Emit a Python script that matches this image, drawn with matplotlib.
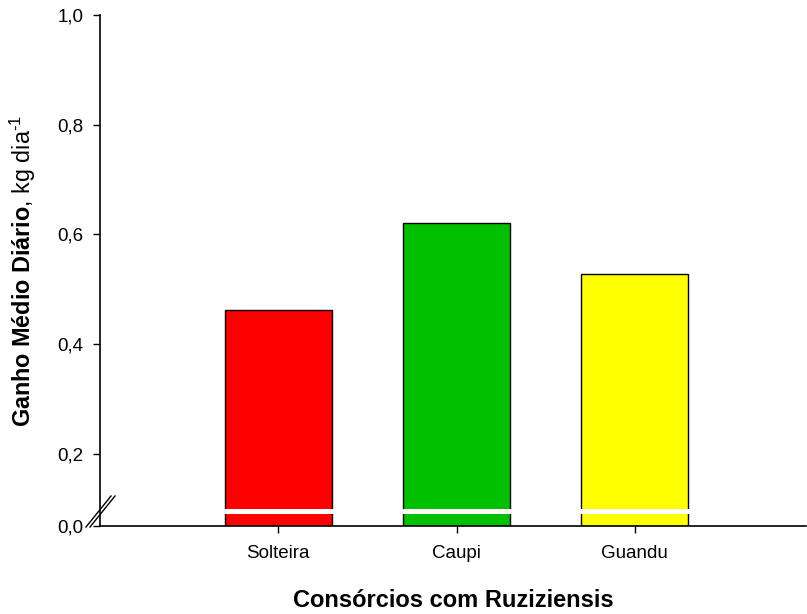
import numpy as np
import matplotlib
matplotlib.use("Agg")
import matplotlib.pyplot as plt
from matplotlib.lines import Line2D

plt.rcParams['font.family'] = ['Liberation Sans', 'DejaVu Sans']
plt.rcParams['mathtext.fontset'] = 'custom'
plt.rcParams['mathtext.rm'] = 'Liberation Sans'
plt.rcParams['mathtext.bf'] = 'Liberation Sans:bold'
plt.rcParams['mathtext.it'] = 'Liberation Sans:italic'

categories = ["Solteira", "Caupi", "Guandu"]
gmd = [0.462, 0.620, 0.527]
colors = ["#FF0000", "#00C000", "#FFFF00"]
yticks = [0.0, 0.2, 0.4, 0.6, 0.8, 1.0]
ytick_labels = ["0,0", "0,2", "0,4", "0,6", "0,8", "1,0"]

# broken y axis: values below the break are compressed
BREAK = 0.095
SQUEEZE = 0.28


def fwd(v):
    v = np.asarray(v, dtype=float)
    return np.where(v >= BREAK, v, BREAK - (BREAK - v) * SQUEEZE)


def inv(u):
    u = np.asarray(u, dtype=float)
    return np.where(u >= BREAK, u, BREAK - (BREAK - u) / SQUEEZE)


fig = plt.figure(figsize=(8.07, 6.14), dpi=100)
ax = fig.add_axes([0.1239, 0.1433, 0.8749, 0.8323])
ax.set_yscale('function', functions=(fwd, inv))

x = np.arange(len(categories))
ax.bar(x, gmd, width=0.6, color=colors, edgecolor='black', linewidth=1.0, zorder=1)

# white band across the bars marking the axis break
ax.axhline(BREAK, color='white', linewidth=3.6, zorder=2)

ax.set_xlim(-1.0, 2.96)
ax.set_ylim(0.0, 1.0)
ax.set_yticks(yticks)
ax.set_yticklabels(ytick_labels)
ax.set_xticks(x)
ax.set_xticklabels(categories)

for s in ['top', 'right']:
    ax.spines[s].set_visible(False)
for s in ['left', 'bottom']:
    ax.spines[s].set_linewidth(1.2)
    ax.spines[s].set_zorder(3)

ax.tick_params(axis='both', direction='out', length=5, width=1.0, labelsize=13.5,
               colors='black')
ax.tick_params(axis='x', pad=9)
ax.tick_params(axis='y', pad=7)

ax.set_xlabel("Consórcios com Ruziziensis", fontsize=17, fontweight='bold')
ax.set_ylabel(r"$\mathbf{Ganho\ Médio\ Diário}$, kg dia$^{‐1}$", fontsize=16.8)
ax.xaxis.set_label_coords(0.5, (526 - 589) / 511)
ax.yaxis.set_label_coords((38 - 100) / 706, 0.5)

# break marks on the y axis
for dx in (0, 4):
    ln = Line2D([86 + dx, 111 + dx], [614 - 527, 614 - 496], color='black',
                linewidth=1.0, transform=None, clip_on=False)
    fig.add_artist(ln)

fig.savefig("out.png", dpi=100)
